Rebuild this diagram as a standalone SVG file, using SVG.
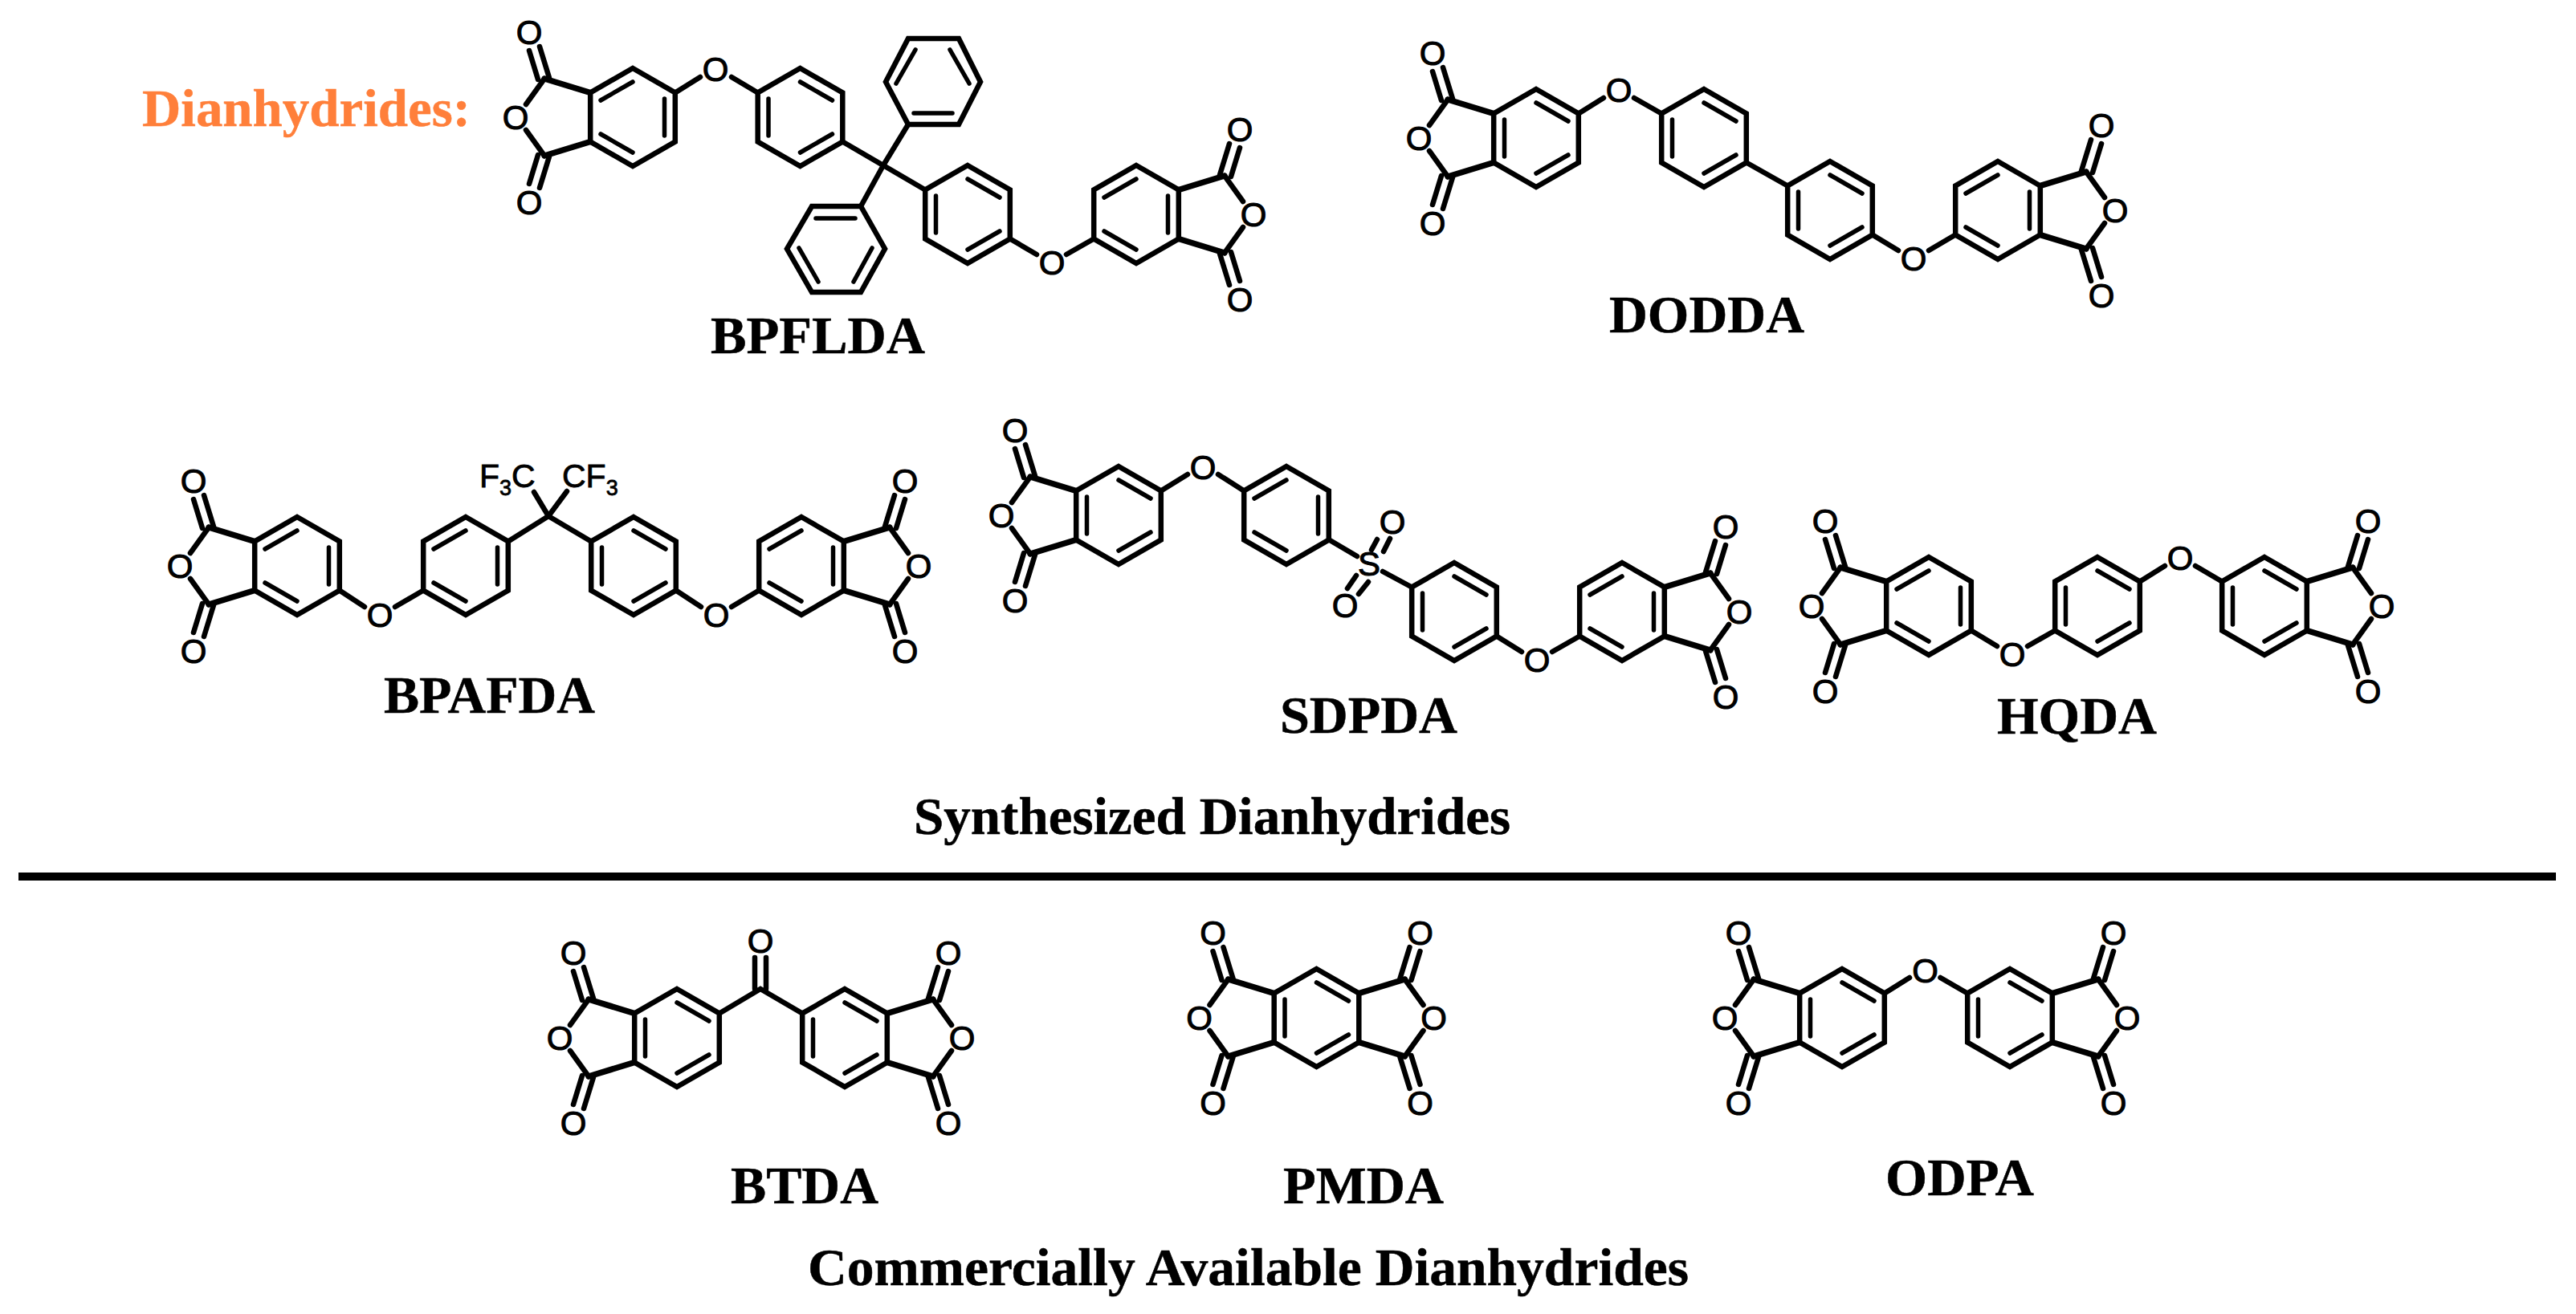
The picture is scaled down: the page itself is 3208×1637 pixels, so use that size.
<svg xmlns="http://www.w3.org/2000/svg" width="3208" height="1637" viewBox="0 0 3208 1637">
<style>
.b{fill:none;stroke:#000;stroke-width:6.5;stroke-linecap:round;stroke-linejoin:miter}
.i{stroke-width:5.5}
.t{stroke-width:7.5}
.a{font-family:"Liberation Sans",Arial,sans-serif;font-size:42px;fill:#000;stroke:#000;stroke-width:1;text-anchor:middle}
.f{font-family:"Liberation Sans",Arial,sans-serif;font-size:41px;fill:#000;stroke:#000;stroke-width:.8}
.l{font-family:"Liberation Serif","Times New Roman",serif;font-weight:bold;font-size:66px;fill:#000;stroke:#000;stroke-width:.5}
</style>
<defs>
<g id="k1" class="b"><polygon points="0,-61 52.8,-30.5 52.8,30.5 0,61 -52.8,30.5 -52.8,-30.5"/><path class="i" d="M-39.5,-23V23M0,-44L40,-21M0,44L40,21"/></g>
<g id="k2" class="b"><polygon points="0,-61 52.8,-30.5 52.8,30.5 0,61 -52.8,30.5 -52.8,-30.5"/><path class="i" d="M39.5,-23V23M0,-44L-40,-21M0,44L-40,21"/></g>
<g id="arm" class="b"><path class="t" d="M-52.8,-30.5L-110,-48M-52.8,30.5L-110,48"/><path d="M-110,-48L-133,-16M-110,48L-133,16M-129,-83L-118,-47M-116,-88L-104,-49M-129,83L-118,47M-116,88L-104,49"/></g>
</defs>
<rect width="3208" height="1637" fill="#fff"/>
<g id="connectors" class="b">
<path d="M840.8,115.5L872,96M911,96L943.7,115.5M1049.3,176.5L1100,206L1131,155M1100,206L1072,257M1100,206L1152.2,236.5M1257.8,297.5L1291,317M1328,317L1362.2,297.5"/>
<path d="M1965.8,141.5L1997,122M2035,122L2069.2,141.5M2174.8,202.5L2226.2,231.5M2331.8,292.5L2364,312M2402,312L2435.2,292.5"/>
<path d="M422.8,735.5L454,756M492,756L527.2,735.5M632.8,674.5L683,643L736.2,674.5M683,643L665,613M683,643L706,612M841.8,735.5L873,756M911,756L945.2,735.5"/>
<path d="M1445.8,611.5L1479,591M1517,591L1549.2,611.5M1654.8,672.2L1690,693M1722,712L1758.2,731.5M1715,672L1708,685M1731,671L1723,687M1689,717L1678,733M1704,725L1692,740M1863.8,792.5L1895,812M1933,812L1967.2,792.5"/>
<path d="M2454.8,785.5L2487,805M2525,805L2559.2,785.5M2664.8,724.5L2696,705M2734,705L2767.2,724.5"/>
<path d="M895.8,1262.5L947,1232L999.2,1262.5M940,1193V1232M954,1193V1232"/>
<path d="M2346.8,1237.5L2378,1218M2416.5,1218L2450.2,1237.5"/>
</g>
<g id="title"><text class="l" x="177" y="157" style="fill:#ff7f3a;stroke:#ff7f3a" textLength="409" lengthAdjust="spacingAndGlyphs">Dianhydrides:</text></g>
<g id="BPFLDA">
<use href="#k2" x="788" y="146"/><use href="#arm" transform="translate(788,146)"/>
<use href="#k1" x="996.5" y="146"/><use href="#k1" x="1205" y="267"/>
<use href="#k2" x="1415" y="267"/><use href="#arm" transform="translate(1415,267) scale(-1,1)"/>
<g class="b"><polygon points="1131,48 1194,48 1221,102 1194,155 1131,155 1103,102"/><path class="i" d="M1140,62L1116,104M1183,62L1207,104M1138,141H1186"/>
<polygon points="1011,257 1072,257 1102,310 1072,364 1011,364 980,310"/><path class="i" d="M1016,272H1065M995,309L1019,351M1086,309L1063,351"/></g>
<text class="a" x="642" y="161">O</text><text class="a" x="659" y="55">O</text><text class="a" x="659" y="267">O</text>
<text class="a" x="891" y="101">O</text><text class="a" x="1310" y="342">O</text>
<text class="a" x="1561" y="282">O</text><text class="a" x="1544" y="176">O</text><text class="a" x="1544" y="388">O</text>
<text class="l" x="885" y="440" textLength="267" lengthAdjust="spacingAndGlyphs">BPFLDA</text>
</g>
<g id="DODDA">
<use href="#k1" x="1913" y="172"/><use href="#arm" transform="translate(1913,172)"/>
<use href="#k1" x="2122" y="172"/><use href="#k1" x="2279" y="262"/>
<use href="#k2" x="2488" y="262"/><use href="#arm" transform="translate(2488,262) scale(-1,1)"/>
<text class="a" x="1767" y="187">O</text><text class="a" x="1784" y="81">O</text><text class="a" x="1784" y="293">O</text>
<text class="a" x="2016" y="127">O</text><text class="a" x="2383" y="337">O</text>
<text class="a" x="2634" y="277">O</text><text class="a" x="2617" y="171">O</text><text class="a" x="2617" y="383">O</text>
<text class="l" x="2004" y="414" textLength="243" lengthAdjust="spacingAndGlyphs">DODDA</text>
</g>
<g id="BPAFDA">
<use href="#k2" x="370" y="705"/><use href="#arm" transform="translate(370,705)"/>
<use href="#k2" x="580" y="705"/><use href="#k1" x="789" y="705"/>
<use href="#k2" x="998" y="705"/><use href="#arm" transform="translate(998,705) scale(-1,1)"/>
<text class="a" x="224" y="720">O</text><text class="a" x="241" y="614">O</text><text class="a" x="241" y="826">O</text>
<text class="a" x="473" y="781">O</text><text class="a" x="892" y="781">O</text>
<text class="a" x="1144" y="720">O</text><text class="a" x="1127" y="614">O</text><text class="a" x="1127" y="826">O</text>
<text class="f" x="597" y="607">F<tspan dy="10" font-size="27">3</tspan><tspan dy="-10">C</tspan></text>
<text class="f" x="700" y="607">CF<tspan dy="10" font-size="27">3</tspan></text>
<text class="l" x="478" y="888" textLength="263" lengthAdjust="spacingAndGlyphs">BPAFDA</text>
</g>
<g id="SDPDA">
<use href="#k1" x="1393" y="642"/><use href="#arm" transform="translate(1393,642)"/>
<use href="#k2" x="1602" y="642"/><use href="#k1" x="1811" y="762"/>
<use href="#k2" x="2020" y="762"/><use href="#arm" transform="translate(2020,762) scale(-1,1)"/>
<text class="a" x="1247" y="657">O</text><text class="a" x="1264" y="551">O</text><text class="a" x="1264" y="763">O</text>
<text class="a" x="1498" y="597">O</text><text class="a" x="1914" y="837">O</text>
<text class="a" x="1705" y="717">S</text><text class="a" x="1734" y="665">O</text><text class="a" x="1675" y="769">O</text>
<text class="a" x="2166" y="777">O</text><text class="a" x="2149" y="671">O</text><text class="a" x="2149" y="883">O</text>
<text class="l" x="1594" y="913" textLength="221" lengthAdjust="spacingAndGlyphs">SDPDA</text>
</g>
<g id="HQDA">
<use href="#k2" x="2402" y="755"/><use href="#arm" transform="translate(2402,755)"/>
<use href="#k1" x="2612" y="755"/>
<use href="#k1" x="2820" y="755"/><use href="#arm" transform="translate(2820,755) scale(-1,1)"/>
<text class="a" x="2256" y="770">O</text><text class="a" x="2273" y="664">O</text><text class="a" x="2273" y="876">O</text>
<text class="a" x="2506" y="830">O</text><text class="a" x="2715" y="710">O</text>
<text class="a" x="2966" y="770">O</text><text class="a" x="2949" y="664">O</text><text class="a" x="2949" y="876">O</text>
<text class="l" x="2487" y="914" textLength="199" lengthAdjust="spacingAndGlyphs">HQDA</text>
</g>
<g id="synthesized"><text class="l" x="1138" y="1039" textLength="743" lengthAdjust="spacingAndGlyphs">Synthesized Dianhydrides</text></g>
<rect id="divider" x="23" y="1087" width="3160" height="10" fill="#000"/>
<g id="BTDA">
<use href="#k1" x="843" y="1293"/><use href="#arm" transform="translate(843,1293)"/>
<use href="#k1" x="1052" y="1293"/><use href="#arm" transform="translate(1052,1293) scale(-1,1)"/>
<text class="a" x="697" y="1308">O</text><text class="a" x="714" y="1202">O</text><text class="a" x="714" y="1414">O</text>
<text class="a" x="947" y="1187">O</text>
<text class="a" x="1198" y="1308">O</text><text class="a" x="1181" y="1202">O</text><text class="a" x="1181" y="1414">O</text>
<text class="l" x="910" y="1499" textLength="184" lengthAdjust="spacingAndGlyphs">BTDA</text>
</g>
<g id="PMDA">
<use href="#k1" x="1639.5" y="1268"/><use href="#arm" transform="translate(1639.5,1268)"/><use href="#arm" transform="translate(1639.5,1268) scale(-1,1)"/>
<text class="a" x="1493.5" y="1283">O</text><text class="a" x="1510.5" y="1177">O</text><text class="a" x="1510.5" y="1389">O</text>
<text class="a" x="1785.5" y="1283">O</text><text class="a" x="1768.5" y="1177">O</text><text class="a" x="1768.5" y="1389">O</text>
<text class="l" x="1598" y="1499" textLength="200" lengthAdjust="spacingAndGlyphs">PMDA</text>
</g>
<g id="ODPA">
<use href="#k1" x="2294" y="1268"/><use href="#arm" transform="translate(2294,1268)"/>
<use href="#k1" x="2503" y="1268"/><use href="#arm" transform="translate(2503,1268) scale(-1,1)"/>
<text class="a" x="2148" y="1283">O</text><text class="a" x="2165" y="1177">O</text><text class="a" x="2165" y="1389">O</text>
<text class="a" x="2397.5" y="1224">O</text>
<text class="a" x="2649" y="1283">O</text><text class="a" x="2632" y="1177">O</text><text class="a" x="2632" y="1389">O</text>
<text class="l" x="2348" y="1489" textLength="185" lengthAdjust="spacingAndGlyphs">ODPA</text>
</g>
<g id="commercial"><text class="l" x="1006" y="1601" textLength="1097" lengthAdjust="spacingAndGlyphs">Commercially Available Dianhydrides</text></g>
</svg>
